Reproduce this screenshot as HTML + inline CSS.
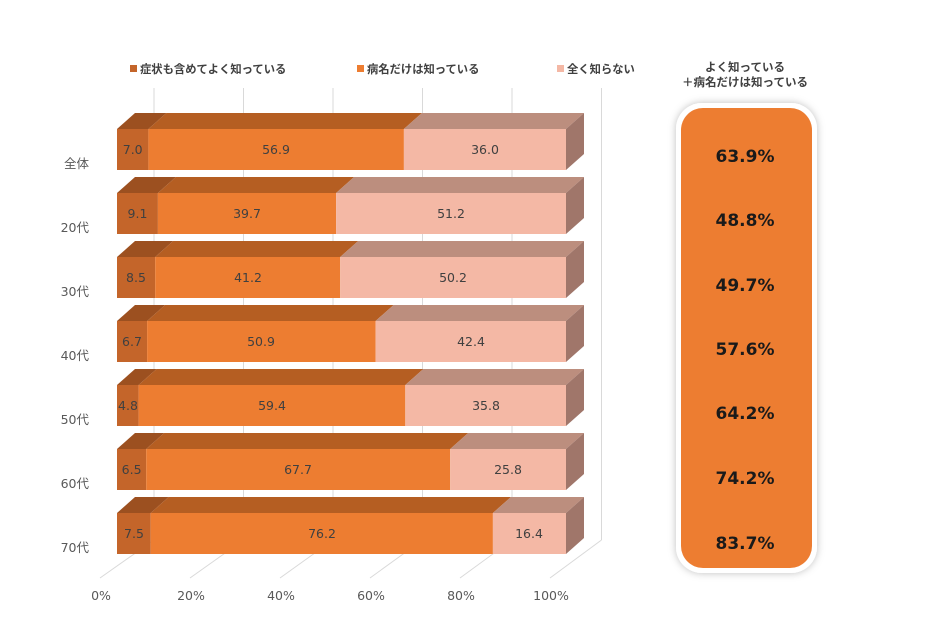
<!DOCTYPE html>
<html><head><meta charset="utf-8"><style>
body{margin:0;background:#fff;}
svg{display:block;font-family:"Liberation Sans","Noto Sans CJK JP",sans-serif;}
.n{font-family:"DejaVu Sans","Noto Sans CJK JP",sans-serif;}
</style></head><body>
<svg width="940" height="629" viewBox="0 0 940 629" xmlns="http://www.w3.org/2000/svg">
<defs>
<g id="side"><polygon points="566,129 584,113 584,154 566,170" fill="#A0766A"/></g>
<filter id="sh" x="-20%" y="-20%" width="140%" height="140%"><feDropShadow dx="0" dy="0" stdDeviation="4" flood-color="#000" flood-opacity="0.25"/></filter>
</defs>
<g font-size="11.3" font-weight="bold" fill="#404040">
<rect x="130" y="65" width="7" height="7" fill="#C4652A"/><text x="140" y="73">症状も含めてよく知っている</text>
<rect x="357" y="65" width="7" height="7" fill="#ED7D31"/><text x="367" y="73">病名だけは知っている</text>
<rect x="557" y="65" width="7" height="7" fill="#F4B8A5"/><text x="567" y="73">全く知らない</text>
</g>
<g stroke="#D9D9D9" stroke-width="1" fill="none">
<line x1="154" y1="88" x2="154" y2="540"/><line x1="243.5" y1="88" x2="243.5" y2="540"/><line x1="333" y1="88" x2="333" y2="540"/><line x1="422.5" y1="88" x2="422.5" y2="540"/><line x1="512" y1="88" x2="512" y2="540"/><line x1="601.5" y1="88" x2="601.5" y2="540"/>
<line x1="154" y1="540" x2="100" y2="578"/><line x1="243.5" y1="540" x2="190" y2="578"/><line x1="333" y1="540" x2="280" y2="578"/><line x1="422.5" y1="540" x2="370" y2="578"/><line x1="512" y1="540" x2="460" y2="578"/><line x1="601.5" y1="540" x2="550" y2="578"/>
</g>
<g class="n" font-size="12.5" fill="#404040" text-anchor="middle">
<g>
<polygon points="117,129 148.4,129 166.4,113 135,113" fill="#9C5020"/><polygon points="148.4,129 403.9,129 421.9,113 166.4,113" fill="#B55E22"/><polygon points="403.9,129 566,129 584,113 421.9,113" fill="#BC8E7E"/>
<rect x="117" y="129" width="31.4" height="41" fill="#C4652A"/><rect x="148.4" y="129" width="255.5" height="41" fill="#ED7D31"/><rect x="403.9" y="129" width="162.1" height="41" fill="#F4B8A5"/><use href="#side"/>
<text x="132.7" y="154">7.0</text><text x="276" y="154">56.9</text><text x="485" y="154">36.0</text>
</g>
<g transform="translate(0,64)">
<polygon points="117,129 157.9,129 175.9,113 135,113" fill="#9C5020"/><polygon points="157.9,129 336.1,129 354.1,113 175.9,113" fill="#B55E22"/><polygon points="336.1,129 566,129 584,113 354.1,113" fill="#BC8E7E"/>
<rect x="117" y="129" width="40.9" height="41" fill="#C4652A"/><rect x="157.9" y="129" width="178.2" height="41" fill="#ED7D31"/><rect x="336.1" y="129" width="229.9" height="41" fill="#F4B8A5"/><use href="#side"/>
<text x="137.5" y="154">9.1</text><text x="247" y="154">39.7</text><text x="451" y="154">51.2</text>
</g>
<g transform="translate(0,128)">
<polygon points="117,129 155.2,129 173.2,113 135,113" fill="#9C5020"/><polygon points="155.2,129 340.2,129 358.2,113 173.2,113" fill="#B55E22"/><polygon points="340.2,129 566,129 584,113 358.2,113" fill="#BC8E7E"/>
<rect x="117" y="129" width="38.2" height="41" fill="#C4652A"/><rect x="155.2" y="129" width="185" height="41" fill="#ED7D31"/><rect x="340.2" y="129" width="225.8" height="41" fill="#F4B8A5"/><use href="#side"/>
<text x="136" y="154">8.5</text><text x="248" y="154">41.2</text><text x="453" y="154">50.2</text>
</g>
<g transform="translate(0,192)">
<polygon points="117,129 147.1,129 165.1,113 135,113" fill="#9C5020"/><polygon points="147.1,129 375.6,129 393.6,113 165.1,113" fill="#B55E22"/><polygon points="375.6,129 566,129 584,113 393.6,113" fill="#BC8E7E"/>
<rect x="117" y="129" width="30.1" height="41" fill="#C4652A"/><rect x="147.1" y="129" width="228.5" height="41" fill="#ED7D31"/><rect x="375.6" y="129" width="190.4" height="41" fill="#F4B8A5"/><use href="#side"/>
<text x="132" y="154">6.7</text><text x="261" y="154">50.9</text><text x="471" y="154">42.4</text>
</g>
<g transform="translate(0,256)">
<polygon points="117,129 138.6,129 156.6,113 135,113" fill="#9C5020"/><polygon points="138.6,129 405.3,129 423.3,113 156.6,113" fill="#B55E22"/><polygon points="405.3,129 566,129 584,113 423.3,113" fill="#BC8E7E"/>
<rect x="117" y="129" width="21.6" height="41" fill="#C4652A"/><rect x="138.6" y="129" width="266.7" height="41" fill="#ED7D31"/><rect x="405.3" y="129" width="160.7" height="41" fill="#F4B8A5"/><use href="#side"/>
<text x="128" y="154">4.8</text><text x="272" y="154">59.4</text><text x="486" y="154">35.8</text>
</g>
<g transform="translate(0,320)">
<polygon points="117,129 146.2,129 164.2,113 135,113" fill="#9C5020"/><polygon points="146.2,129 450.2,129 468.2,113 164.2,113" fill="#B55E22"/><polygon points="450.2,129 566,129 584,113 468.2,113" fill="#BC8E7E"/>
<rect x="117" y="129" width="29.2" height="41" fill="#C4652A"/><rect x="146.2" y="129" width="304" height="41" fill="#ED7D31"/><rect x="450.2" y="129" width="115.8" height="41" fill="#F4B8A5"/><use href="#side"/>
<text x="131.6" y="154">6.5</text><text x="298" y="154">67.7</text><text x="508" y="154">25.8</text>
</g>
<g transform="translate(0,384)">
<polygon points="117,129 150.7,129 168.7,113 135,113" fill="#9C5020"/><polygon points="150.7,129 492.9,129 510.9,113 168.7,113" fill="#B55E22"/><polygon points="492.9,129 566,129 584,113 510.9,113" fill="#BC8E7E"/>
<rect x="117" y="129" width="33.7" height="41" fill="#C4652A"/><rect x="150.7" y="129" width="342.2" height="41" fill="#ED7D31"/><rect x="492.9" y="129" width="73.1" height="41" fill="#F4B8A5"/><use href="#side"/>
<text x="134" y="154">7.5</text><text x="322" y="154">76.2</text><text x="529" y="154">16.4</text>
</g>
</g>
<g class="n" font-size="12.5" fill="#595959" text-anchor="end">
<text x="89" y="168">全体</text><text x="89" y="232">20代</text><text x="89" y="296">30代</text><text x="89" y="360">40代</text><text x="89" y="424">50代</text><text x="89" y="488">60代</text><text x="89" y="552">70代</text>
</g>
<g class="n" font-size="12.5" fill="#595959" text-anchor="middle">
<text x="101" y="600">0%</text><text x="191" y="600">20%</text><text x="281" y="600">40%</text><text x="371" y="600">60%</text><text x="461" y="600">80%</text><text x="551" y="600">100%</text>
</g>
<g font-size="11.5" font-weight="bold" fill="#404040" text-anchor="middle">
<text x="745" y="71">よく知っている</text><text x="745" y="86">＋病名だけは知っている</text>
</g>
<rect x="676" y="103" width="141" height="470" rx="26" fill="#fff" filter="url(#sh)"/>
<rect x="681" y="108" width="131" height="460" rx="22" fill="#ED7D31"/>
<g class="n" font-size="17" font-weight="bold" fill="#1a1a1a" text-anchor="middle">
<text x="745" y="162">63.9%</text><text x="745" y="226">48.8%</text><text x="745" y="291">49.7%</text><text x="745" y="355">57.6%</text><text x="745" y="419">64.2%</text><text x="745" y="484">74.2%</text><text x="745" y="549">83.7%</text>
</g>
</svg>
</body></html>
